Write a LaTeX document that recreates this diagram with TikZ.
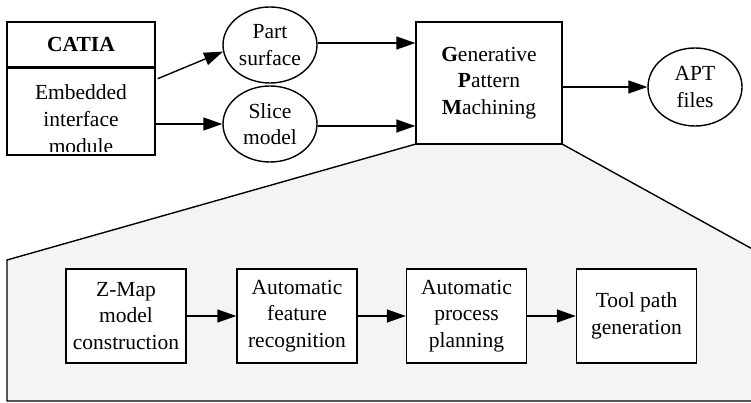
\documentclass[tikz,border=0pt]{standalone}
\usepackage{fontspec}
\setmainfont{Liberation Serif}
\usetikzlibrary{arrows.meta,calc,shapes.geometric}
\begin{document}
\begin{tikzpicture}[x=1pt,y=-1pt,
  line width=1.4pt,
  every node/.style={font=\fontsize{21.5}{26.5}\selectfont, align=center, inner sep=0pt},
  ell/.style={draw, ellipse, minimum width=94pt, minimum height=76pt, fill=white},
  sbox/.style={draw, minimum width=120pt, minimum height=94pt, fill=white},
  arr/.style={-{Triangle[length=19pt,width=13pt]}}]
\useasboundingbox (0,0) rectangle (751,403);
% gray magnified region
\draw[fill=gray!9] (7,260) -- (416,144) -- (562,144) -- (756,251) -- (756,401) -- (7,401) -- cycle;
% CATIA box
\node[draw, minimum width=148pt, minimum height=45pt, font=\fontsize{21.5}{26.5}\selectfont\bfseries] (catiaTop) at (81,44.5) {CATIA};
\node[draw, minimum width=148pt, minimum height=86pt, anchor=north] (catiaBot) at (catiaTop.south) {};
\begin{scope}
\clip (catiaBot.north west) rectangle ($(catiaBot.south east)+(0,-4)$);
\node[anchor=north, font=\fontsize{21.5}{27}\selectfont] (catiaTxt) at ($(catiaBot.north)+(0,16)$) {Embedded\\interface\\module};
\end{scope}
\draw (catiaBot.north west) rectangle (catiaBot.south east);
% ellipses
\node[ell] (part) at (270,45) {Part\\surface};
\node[ell] (slice) at (270,124) {Slice\\model};
\node[draw, minimum width=146pt, minimum height=122pt, fill=white] (gpm) at (489,83) {\textbf{G}enerative\\\textbf{P}attern\\\textbf{M}achining};
\node[ell, minimum height=78pt] (apt) at (695,87) {APT\\files};
% arrows top
\coordinate (c1) at ($(catiaBot.north east)+(2,11)$);
\coordinate (c2) at (catiaBot.east |- slice.west);
\draw[arr] (c1) -- (part.188);
\draw[arr] (c2) -- (slice.west);
\draw[arr] ($(part.east)+(0,-2)$) -- ($(part.east -| gpm.west)+(0,-2)$);
\draw[arr] ($(slice.east)+(0,2)$) -- ($(slice.east -| gpm.west)+(0,2)$);
\draw[arr] (gpm.east |- apt.west) -- (apt.west);
% lower boxes
\node[sbox] (zmap) at (126,316) {Z-Map\\model\\construction};
\node[sbox] (afr) at (297,316) {Automatic\\feature\\recognition};
\node[sbox] (app) at (466.5,316) {Automatic\\process\\planning};
\node[sbox] (tpg) at (636.5,316) {Tool path\\generation};
\draw[arr] (zmap) -- (afr);
\draw[arr] (afr) -- (app);
\draw[arr] (app) -- (tpg);
\end{tikzpicture}
\end{document}
